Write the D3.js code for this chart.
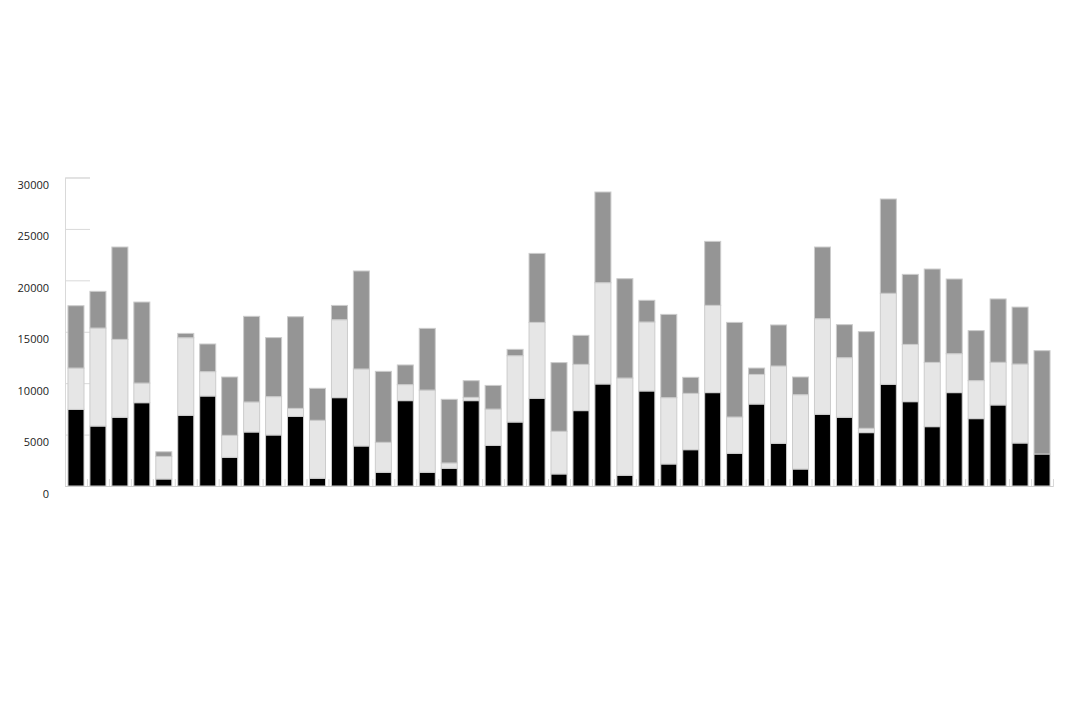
<!DOCTYPE html>
<html>
<head>
<meta charset="utf-8">
<script src="https://cdn.jsdelivr.net/npm/d3@7/dist/d3.min.js"></script>
<style>
  html, body { margin: 0; padding: 0; background: #fff; }
  svg { display: block; }
  text { font-family: "Open Sans", "Noto Sans", sans-serif; }
</style>
</head>
<body>
<svg id="chart" width="1080" height="720"></svg>
<script>
// ---- data ----
const categories = d3.range(1, 46).map(i => "C" + i);
const seriesNames = ["A", "B", "C"];
const seriesA = [7450,5830,6680,8100,680,6870,8750,2790,5250,4960,6770,750,8590,3890,1330,8300,1330,1720,8300,3950,6220,8520,1170,7330,9920,1040,9240,2140,3530,9080,3180,7970,4150,1650,6970,6680,5190,9890,8200,5770,9080,6550,7880,4180,3110];
const seriesB = [4020,9530,7580,1910,2200,7550,2370,2140,2920,3730,780,5640,7580,7490,2920,1560,8000,520,320,3530,6450,7390,4150,4500,9850,9460,6710,6450,5480,8490,3530,2880,7520,7230,9300,5800,420,8850,5570,6250,3790,3700,4150,7680,0];
const seriesC = [6060,3570,8980,7880,450,420,2690,5670,8330,5740,8910,3110,1390,9530,6900,1910,6000,6190,1620,2300,620,6710,6680,2820,8820,9660,2110,8100,1560,6220,9200,620,3990,1720,6970,3210,9400,9170,6810,9080,7260,4860,6160,5540,10050];
const yTicks = [0, 5000, 10000, 15000, 20000, 25000, 30000];
const colors = ["#000000", "#e6e6e6", "#959595"];

// ---- layout ----
const mLeft = 65, mRight = 1053, mTop = 177.5, mBottom = 486;
const svg = d3.select("#chart");

const rows = categories.map((c, i) => ({ cat: c, A: seriesA[i], B: seriesB[i], C: seriesC[i] }));
const stacked = d3.stack().keys(seriesNames)(rows);

const x = d3.scaleBand().domain(categories).range([mLeft, mRight]).paddingInner(0.27).paddingOuter(0.135);
const y = d3.scaleLinear().domain([0, 30000]).range([mBottom, mTop]);

// y axis (short gridlines + vertical line)
const yAxis = svg.append("g").attr("transform", `translate(${mLeft},0)`)
  .call(d3.axisLeft(y).tickValues(yTicks).tickSize(-25).tickFormat(d3.format("d")));
yAxis.select(".domain").attr("stroke", "#d9d9d9");
yAxis.selectAll(".tick line").attr("stroke", "#d9d9d9");
yAxis.selectAll(".tick text")
  .attr("x", -16).attr("dy", "11").attr("fill", "#222")
  .style("font-size", "11px").attr("text-anchor", "end");

// bottom ticks at band boundaries
const xb = d3.scaleLinear().domain([0, categories.length]).range([mLeft, mRight]);
const xAxis = svg.append("g").attr("transform", `translate(0,${mBottom})`)
  .call(d3.axisBottom(xb).tickValues(d3.range(0, categories.length + 1)).tickSize(-7).tickFormat(""));
xAxis.select(".domain").attr("stroke", "#cfcfcf");
xAxis.selectAll(".tick line").attr("stroke", "#d9d9d9");

// bars
svg.append("g").selectAll("g").data(stacked).join("g")
  .attr("fill", (d, i) => colors[i])
  .selectAll("rect").data(d => d).join("rect")
  .attr("x", d => x(d.data.cat))
  .attr("width", x.bandwidth())
  .attr("y", d => y(d[1]))
  .attr("height", d => y(d[0]) - y(d[1]))
  .attr("stroke", "#cccccc")
  .attr("stroke-width", 1);
</script>
</body>
</html>
